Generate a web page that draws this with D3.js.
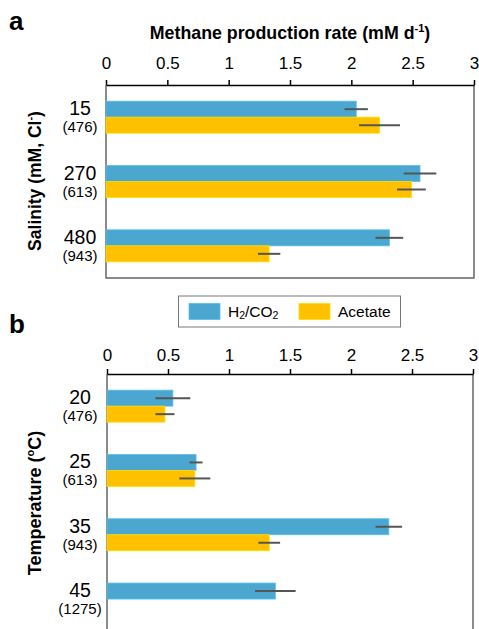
<!DOCTYPE html>
<meta charset=utf-8>
<script src="https://cdn.jsdelivr.net/npm/d3@7"></script>
<style>
body { margin: 0; background: white }
text { font-family: "Liberation Sans", Arial, sans-serif }
</style>
<body>
<svg id=chart width=479 height=629></svg>
<script>
// data
const salinity = ["15", "270", "480"];
const salinitySub = ["(476)", "(613)", "(943)"];
const salH2 = [2.04, 2.56, 2.31];
const salH2Err = [0.095, 0.133, 0.113];
const salAc = [2.23, 2.49, 1.33];
const salAcErr = [0.167, 0.117, 0.091];

const temperature = ["20", "25", "35", "45"];
const temperatureSub = ["(476)", "(613)", "(943)", "(1275)"];
const tempH2 = [0.54, 0.73, 2.31, 1.38];
const tempH2Err = [0.143, 0.053, 0.109, 0.166];
const tempAc = [0.475, 0.72, 1.33, 0];
const tempAcErr = [0.078, 0.127, 0.089, 0];

const ticks = [0, 0.5, 1, 1.5, 2, 2.5, 3];
const blue = "#4ba6d0", orange = "#ffc000";

const svg = d3.select(chart);

function panel(o) {
	const x = d3.scaleLinear().domain([0, 3]).range([o.left, o.right]);
	const y = d3.scaleBand().domain(d3.range(o.cats.length)).range([o.top, o.bottom]);
	const g = svg.append("g");
	const bh = 16;

	// frame sides
	g.append("path")
		.attr("d", `M${o.left},${o.top}V${o.bottom}` + (o.closed ? `H${o.right}` : `M${o.right},${o.bottom}`) + `V${o.top}`)
		.attr("fill", "none").attr("stroke", "#666").attr("stroke-width", 1.5);

	const series = [[o.h2, o.h2e, blue, -bh], [o.ac, o.ace, orange, 0]];
	for (const [vals, errs, col, off] of series) {
		g.append("g").selectAll("rect").data(vals).join("rect")
			.attr("x", x(0)).attr("width", d => x(d) - x(0))
			.attr("y", (d, i) => y(i) + y.bandwidth() / 2 + off).attr("height", bh)
			.attr("fill", col).attr("stroke", d3.color(col).brighter(0.4)).attr("stroke-width", 0.8);
		g.append("g").selectAll("line").data(vals).join("line")
			.filter(d => d > 0)
			.attr("x1", (d, i) => x(d - errs[i])).attr("x2", (d, i) => x(d + errs[i]))
			.attr("y1", (d, i) => y(i) + y.bandwidth() / 2 + off + bh / 2)
			.attr("y2", (d, i) => y(i) + y.bandwidth() / 2 + off + bh / 2)
			.attr("stroke", "#555").attr("stroke-width", 2);
	}

	// top axis
	g.append("g").attr("transform", `translate(0,${o.top})`)
		.call(d3.axisTop(x).tickValues(ticks).tickFormat(d => d).tickSize(5).tickPadding(o.tickPad).tickSizeOuter(0))
		.call(a => a.select(".domain").attr("stroke-width", 1.5))
		.call(a => a.selectAll(".tick line").attr("stroke-width", 1.5))
		.call(a => a.selectAll("text").attr("font-size", 17).attr("font-family", "Liberation Sans, Arial, sans-serif").attr("fill", "#000"));

	// category labels
	const lab = g.append("g").attr("text-anchor", "middle").attr("fill", "#000");
	lab.selectAll(".big").data(o.cats).join("text")
		.attr("x", 80).attr("y", (d, i) => y(i) + y.bandwidth() / 2 - 2)
		.attr("font-size", 19.5).text(d => d);
	lab.selectAll(".small").data(o.subs).join("text")
		.attr("x", 80).attr("y", (d, i) => y(i) + y.bandwidth() / 2 + 15)
		.attr("font-size", 15).text(d => d);

	// panel letter
	svg.append("text").attr("x", 9).attr("y", o.letterY)
		.attr("font-size", 26).attr("font-weight", "bold").text(o.letter);

	// y title
	const yt = svg.append("text")
		.attr("transform", `translate(41,${o.titleY}) rotate(-90)`)
		.attr("text-anchor", "middle").attr("font-size", o.titleSize).attr("font-weight", "bold");
	o.ytitle(yt);
}

panel({
	left: 106, right: 474, top: 85, bottom: 278, closed: true, tickPad: 11,
	cats: salinity, subs: salinitySub, h2: salH2, h2e: salH2Err, ac: salAc, ace: salAcErr,
	letter: "a", letterY: 30, titleY: 181, titleSize: 17.5,
	ytitle: t => { t.append("tspan").text("Salinity (mM, Cl"); t.append("tspan").attr("font-size", 11).attr("dy", -7).text("-"); t.append("tspan").attr("dy", 7).text(")"); }
});

panel({
	left: 107, right: 473, top: 374, bottom: 374 + 4 * 64.3, closed: false, tickPad: 8,
	cats: temperature, subs: temperatureSub, h2: tempH2, h2e: tempH2Err, ac: tempAc, ace: tempAcErr,
	letter: "b", letterY: 333, titleY: 503, titleSize: 18,
	ytitle: t => { t.append("tspan").text("Temperature ("); t.append("tspan").attr("font-size", 11).attr("dy", -7).text("o"); t.append("tspan").attr("dy", 7).text("C)"); }
});

// x title
const xt = svg.append("text").attr("x", 290).attr("y", 39).attr("text-anchor", "middle")
	.attr("font-size", 17.8).attr("font-weight", "bold");
xt.append("tspan").text("Methane production rate (mM d");
xt.append("tspan").attr("font-size", 11).attr("dy", -7).text("-1");
xt.append("tspan").attr("dy", 7).text(")");

// legend
const leg = svg.append("g");
leg.append("rect").attr("x", 178.5).attr("y", 296).attr("width", 222).attr("height", 31)
	.attr("fill", "white").attr("stroke", "#777").attr("stroke-width", 1);
const legItems = [["H", "2", "/CO", "2"], ["Acetate"]];
const legCols = [blue, orange];
const legX = [189, 299];
legItems.forEach((parts, i) => {
	leg.append("rect").attr("x", legX[i]).attr("y", 303.5).attr("width", 31).attr("height", 16)
		.attr("fill", legCols[i]).attr("stroke", d3.color(legCols[i]).brighter(0.4)).attr("stroke-width", 0.8);
	const t = leg.append("text").attr("x", legX[i] + 39).attr("y", 317).attr("font-size", 15.5);
	parts.forEach((p, j) => {
		const s = t.append("tspan").text(p);
		if (j % 2 === 1) s.attr("font-size", 10.5).attr("dy", 2);
		else if (j > 0) s.attr("dy", -2);
	});
});
</script>
</body>
